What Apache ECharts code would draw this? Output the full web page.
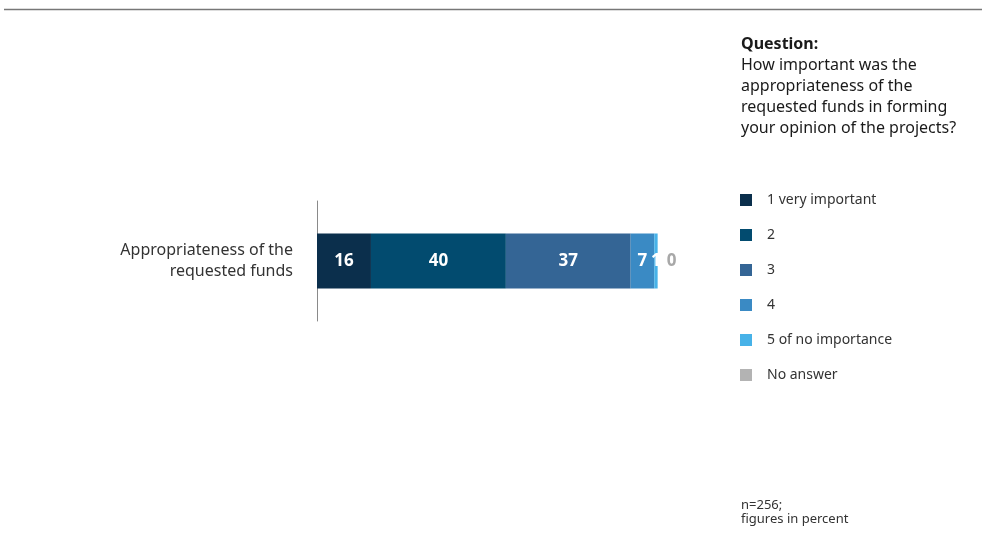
<!DOCTYPE html>
<html>
<head>
<meta charset="utf-8">
<script src="https://cdn.jsdelivr.net/npm/echarts@6/dist/echarts.min.js"></script>
<style>
  html, body { margin: 0; padding: 0; background: #fff; }
  #chart { width: 986px; height: 536px; }
</style>
</head>
<body>
<div id="chart"></div>
<script>
// Survey answers, in percent
const categories = ['Appropriateness of the\nrequested funds'];
const seriesNames = ['1 very important', '2', '3', '4', '5 of no importance', 'No answer'];
const veryImportant = [16];
const two = [40];
const three = [37];
const four = [7];
const noImportance = [1];
const noAnswer = [0];
const seriesValues = [veryImportant, two, three, four, noImportance, noAnswer];
const colors = ['#0b2f4c', '#024b6f', '#346595', '#3a8ac4', '#47b2e8', '#b3b3b3'];

const FONT = '"Noto Sans", "Open Sans", sans-serif';

const chart = echarts.init(document.getElementById('chart'));

const series = seriesNames.map((name, i) => ({
  name: name,
  type: 'bar',
  stack: 'total',
  barWidth: 55,
  data: seriesValues[i],
  itemStyle: { color: colors[i] },
  label: i === 5 ? {
    show: true,
    position: 'right',
    distance: 9,
    color: '#a8a8a8',
    fontWeight: 'bold',
    fontSize: 17,
    fontFamily: FONT
  } : {
    show: true,
    position: 'inside',
    color: '#ffffff',
    fontWeight: 'bold',
    fontSize: 17,
    fontFamily: FONT
  }
}));

chart.setOption({
  animation: false,
  backgroundColor: '#ffffff',
  // 110 units across 371px keeps 100% at ~337px
  grid: { left: 317, top: 201, width: 371, height: 120, containLabel: false },
  xAxis: {
    type: 'value',
    min: 0,
    max: 110,
    show: false
  },
  yAxis: {
    type: 'category',
    data: categories,
    axisLine: { show: true, lineStyle: { color: '#8a8a8a', width: 1 } },
    axisTick: { show: false },
    axisLabel: {
      margin: 24,
      color: '#333333',
      fontSize: 16,
      lineHeight: 21,
      fontFamily: FONT,
      align: 'right'
    }
  },
  legend: {
    orient: 'vertical',
    left: 740,
    top: 193,
    padding: 0,
    itemWidth: 12,
    itemHeight: 12,
    itemGap: 21,
    icon: 'rect',
    data: seriesNames,
    textStyle: { color: '#333333', fontSize: 14, lineHeight: 14, fontFamily: FONT, padding: [0, 0, 0, 10] }
  },
  graphic: [
    {
      type: 'line',
      shape: { x1: 4, y1: 9.5, x2: 982, y2: 9.5 },
      style: { stroke: '#777777', lineWidth: 1.5 }
    },
    {
      type: 'text',
      left: 741,
      top: 34,
      style: {
        text: '{b|Question:}\nHow important was the\nappropriateness of the\nrequested funds in forming\nyour opinion of the projects?',
        fill: '#1a1a1a',
        fontSize: 16,
        lineHeight: 21,
        fontFamily: FONT,
        rich: { b: { fontWeight: 'bold', fontSize: 16, lineHeight: 21, fontFamily: FONT, fill: '#1a1a1a' } }
      }
    },
    {
      type: 'text',
      left: 741,
      top: 498,
      style: {
        text: 'n=256;\nfigures in percent',
        fill: '#333333',
        fontSize: 13,
        lineHeight: 14,
        fontFamily: FONT
      }
    }
  ],
  series: series
});
</script>
</body>
</html>
